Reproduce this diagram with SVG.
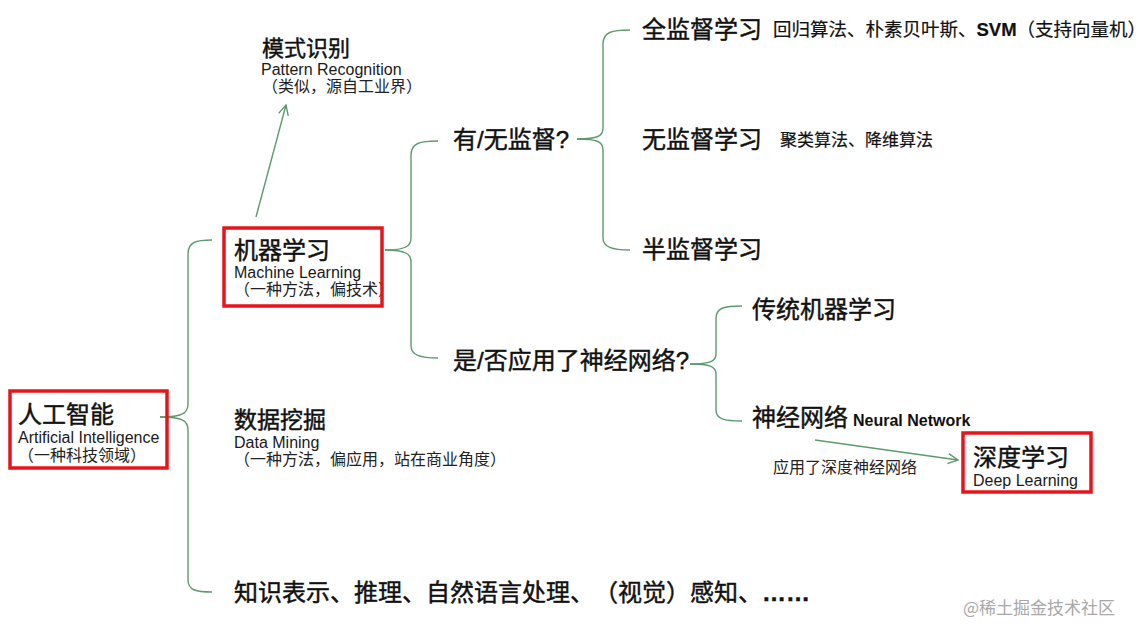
<svg xmlns="http://www.w3.org/2000/svg" width="1144" height="636" viewBox="0 0 1144 636">
<defs>
<style>
text{font-family:"Liberation Sans","Noto Sans CJK SC",sans-serif;fill:#111;text-spacing-trim:space-all;}
.h{font-size:24px;font-weight:400;stroke:#111;stroke-width:0.45;}
.en{font-size:16px;fill:#1a1a1a;}
.cn{font-size:16px;fill:#222;}
.note{font-size:17px;fill:#111;stroke:#111;stroke-width:0.2;}
.box{fill:none;stroke:#e8141b;stroke-width:3.5;}
.ln{fill:none;stroke:#5f9a6e;stroke-width:1.4;}
.wm{font-size:17px;fill:#a8a8a8;font-family:"Noto Sans CJK SC",sans-serif;}
</style>
<marker id="arr" viewBox="0 0 12 12" refX="11" refY="6" markerWidth="12" markerHeight="12" markerUnits="userSpaceOnUse" orient="auto">
<path d="M1,1 L11,6 L1,11" fill="none" stroke="#5f9a6e" stroke-width="1.4"/>
</marker>
</defs>
<rect width="1144" height="636" fill="#fff"/>

<g id="connectors">
<path class="ln" d="M212,240 C196,240 188,242 188,254 L188,404 C188,413 183,417 160,417"/>
<path class="ln" d="M160,417 C183,417 188,421 188,430 L188,580 C188,590 196,592 212,592"/>
<path class="ln" d="M438,141 C420,141 411,143 411,155 L411,238 C411,246 406,250 385,250"/>
<path class="ln" d="M385,250 C406,250 411,254 411,262 L411,346 C411,355 420,358 438,358"/>
<path class="ln" d="M630,30 C612,30 603,32 603,44 L603,128 C603,136 598,139 577,139"/>
<path class="ln" d="M577,139 C598,139 603,142 603,150 L603,238 C603,247 612,250 630,250"/>
<path class="ln" d="M742,306 C724,306 716,308 716,318 L716,354 C716,361 711,364 690,364"/>
<path class="ln" d="M690,364 C711,364 716,367 716,374 L716,410 C716,419 724,421 742,421"/>
<path class="ln" d="M256,217 L286,105" marker-end="url(#arr)"/>
<path class="ln" d="M815,440 L958,460" marker-end="url(#arr)"/>
</g>

<g id="ai">
<text class="h" x="18" y="423">人工智能</text>
<text class="en" x="18" y="443">Artificial Intelligence</text>
<text class="cn" x="18" y="461">（一种科技领域）</text>
<rect class="box" x="10" y="391" width="157" height="77"/>
</g>

<g id="ml">
<text class="h" x="234" y="259">机器学习</text>
<text class="en" x="234" y="278">Machine Learning</text>
<text class="cn" x="234" y="295">（一种方法，偏技术）</text>
<rect class="box" x="224" y="228" width="158" height="78"/>
</g>

<g id="pr">
<text class="h" x="262" y="56" style="font-size:22px">模式识别</text>
<text class="en" x="261" y="75">Pattern Recognition</text>
<text class="cn" x="262" y="92">（类似，源自工业界）</text>
</g>

<g id="dm">
<text class="h" x="234" y="428" style="font-size:23px">数据挖掘</text>
<text class="en" x="234" y="448">Data Mining</text>
<text class="cn" x="234" y="465">（一种方法，偏应用，站在商业角度）</text>
</g>

<g id="other">
<text class="h" x="234" y="601">知识表示、推理、自然语言处理、（视觉）感知、<tspan font-weight="bold">……</tspan></text>
</g>

<g id="sup-q">
<text class="h" x="453" y="148">有/无监督?</text>
</g>

<g id="full">
<text class="h" x="642" y="38">全监督学习</text>
<text class="note" x="773" y="36" style="font-size:18.5px">回归算法、朴素贝叶斯、<tspan font-weight="bold">SVM</tspan>（支持向量机）</text>
</g>

<g id="unsup">
<text class="h" x="642" y="148">无监督学习</text>
<text class="note" x="780" y="146">聚类算法、降维算法</text>
</g>

<g id="semi">
<text class="h" x="642" y="258">半监督学习</text>
</g>

<g id="nn-q">
<text class="h" x="453" y="369">是/否应用了神经网络?</text>
</g>

<g id="tml">
<text class="h" x="752" y="318">传统机器学习</text>
</g>

<g id="nn">
<text class="h" x="752" y="426">神经网络</text>
<text x="853" y="426" style="font-size:16px;font-weight:bold">Neural Network</text>
</g>

<g id="dl-label">
<text class="cn" x="773" y="473">应用了深度神经网络</text>
</g>

<g id="dl">
<text class="h" x="973" y="466">深度学习</text>
<text class="en" x="973" y="486">Deep Learning</text>
<rect class="box" x="963" y="433" width="128" height="59"/>
</g>

<text class="wm" x="963" y="614">@稀土掘金技术社区</text>
</svg>
